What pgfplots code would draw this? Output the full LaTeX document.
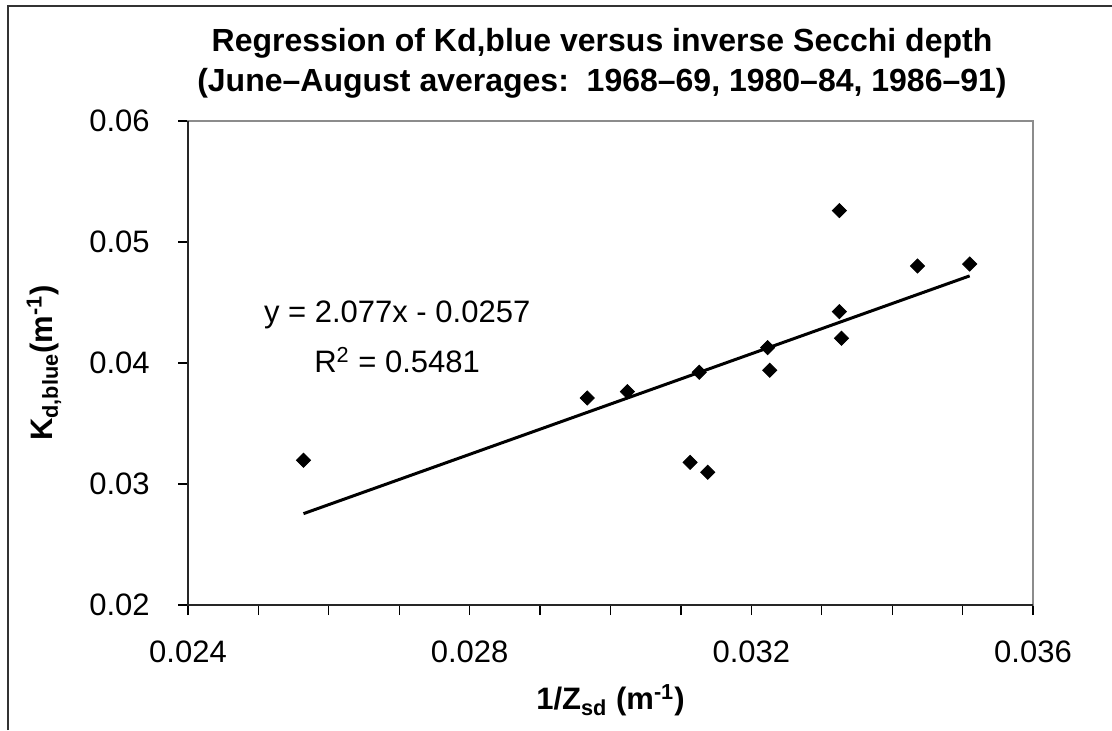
\documentclass[border=0pt]{standalone}
\usepackage{fontspec}
\setmainfont{Liberation Sans}
\usepackage{pgfplots}
\pgfplotsset{compat=1.18}
\usepackage{pgfplotstable}

\pgfplotstableread{
x y
0.02564 0.03196
0.02967 0.03711
0.03024 0.03763
0.03113 0.03179
0.03126 0.03923
0.03138 0.03097
0.03223 0.04127
0.03226 0.03940
0.03325 0.04424
0.03328 0.04204
0.03436 0.04802
0.03510 0.04818
0.03325 0.05260
}\datatable

\pgfplotstableread{
x y
0.02564 0.02755
0.03510 0.04720
}\trendtable

\begin{document}
\begin{tikzpicture}
\path[use as bounding box] (0,0) rectangle (556pt,365pt);
% outer chart frame (left and top visible)
\draw[line width=1.1pt, black!80] (4pt,0pt) -- (4pt,362pt) -- (556pt,362pt);

\begin{axis}[
  at={(94pt,62.5pt)}, anchor=south west,
  width=422.5pt, height=242pt, scale only axis,
  xmin=0.024, xmax=0.036, ymin=0.02, ymax=0.06,
  xtick={0.024,0.028,0.032,0.036},
  xticklabels={0.024,0.028,0.032,0.036},
  minor xtick={0.025,0.026,0.027,0.029,0.030,0.031,0.033,0.034,0.035},
  ytick={0.02,0.03,0.04,0.05,0.06},
  yticklabels={0.02,0.03,0.04,0.05,0.06},
  scaled ticks=false,
  tick align=outside,
  xtick pos=bottom, ytick pos=left,
  major tick length=5pt, minor tick length=5pt,
  tick style={black, line width=0.6pt},
  axis line style={draw=black!45, line width=1pt},
  ticklabel style={font=\fontsize{15.5}{18}\selectfont, inner sep=0pt},
  /pgf/number format/assume math mode=true,
  xticklabel style={anchor=north},
  yticklabel style={anchor=east},
  xticklabel shift=12.5pt,
  yticklabel shift=14pt,
  clip=false,
]
\draw[black!85, line width=1.1pt] (rel axis cs:0,1) -- (rel axis cs:0,0) -- (rel axis cs:1,0);
\addplot[black, line width=1.5pt, no marks] table[x=x,y=y] {\trendtable};
\addplot[only marks, mark=square*, mark size=2.5pt, mark options={rotate=45, fill=black, draw=black}] table[x=x,y=y] {\datatable};
\node[font=\fontsize{15.5}{18}\selectfont, anchor=center] at (axis cs:0.02697,0.04397) {y = 2.077x - 0.0257};
\node[font=\fontsize{15.5}{18}\selectfont, anchor=center] at (axis cs:0.02697,0.04025) {R\textsuperscript{2} = 0.5481};
\end{axis}

% title
\node[font=\fontsize{16}{18}\selectfont\bfseries, anchor=center] at (301pt,343.5pt) {Regression of Kd,blue versus inverse Secchi depth};
\node[font=\fontsize{16}{18}\selectfont\bfseries, anchor=center] at (301pt,323.5pt) {(June–August averages:\ \ 1968–69, 1980–84, 1986–91)};
% axis titles
\node[font=\fontsize{15.5}{18}\selectfont\bfseries, anchor=center] at (305.25pt,15pt) {1/Z\textsubscript{sd} (m\textsuperscript{-1})};
\node[font=\fontsize{15.5}{18}\selectfont\bfseries, anchor=center, rotate=90] at (22pt,183.5pt) {K\textsubscript{d,blue}(m\textsuperscript{-1})};
\end{tikzpicture}
\end{document}
